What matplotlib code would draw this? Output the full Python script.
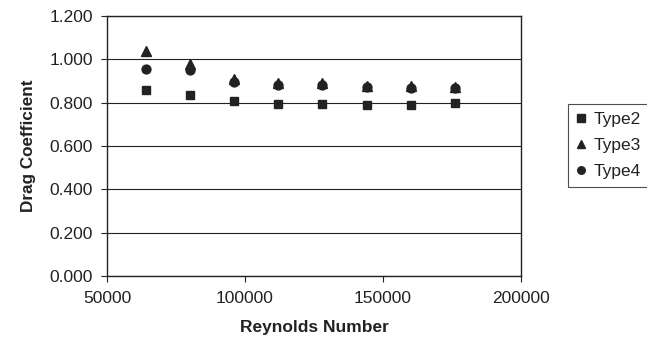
import matplotlib.pyplot as plt

plt.rcParams['font.family'] = ['Liberation Sans', 'DejaVu Sans']

# Drag coefficient vs Reynolds number for three body types
reynolds = [64000, 80000, 96000, 112000, 128000, 144000, 160000, 176000]
type2_cd = [0.859, 0.837, 0.809, 0.795, 0.793, 0.787, 0.790, 0.798]
type3_cd = [1.040, 0.980, 0.907, 0.893, 0.889, 0.879, 0.876, 0.874]
type4_cd = [0.956, 0.952, 0.894, 0.882, 0.880, 0.871, 0.867, 0.866]

ink = '#222222'

fig = plt.figure(figsize=(6.47, 3.45), dpi=100)
ax = fig.add_axes([0.1654, 0.2, 0.640, 0.7536])

ax.plot(reynolds, type2_cd, linestyle='none', marker='s', markersize=6.2,
        color=ink, label='Type2')
ax.plot(reynolds, type3_cd, linestyle='none', marker='^', markersize=6.6,
        color=ink, label='Type3')
ax.plot(reynolds, type4_cd, linestyle='none', marker='o', markersize=6.4,
        color=ink, label='Type4')

ax.set_xlim(50000, 200000)
ax.set_ylim(0, 1.2)
ax.set_xticks([50000, 100000, 150000, 200000])
ax.set_xticklabels(['50000', '100000', '150000', '200000'])
ax.set_yticks([0, 0.2, 0.4, 0.6, 0.8, 1.0, 1.2])
ax.set_yticklabels([f'{v:.3f}' for v in ax.get_yticks()])

ax.yaxis.grid(True, color=ink, linewidth=0.8)
ax.set_axisbelow(True)
for side in ax.spines.values():
    side.set_color(ink)
    side.set_linewidth(1.0)
ax.tick_params(axis='both', direction='out', length=4, width=0.8,
               colors=ink, labelsize=12.5)
ax.tick_params(axis='y', pad=6)
ax.tick_params(axis='x', pad=7)

ax.set_xlabel('Reynolds Number', fontsize=12.5, fontweight='bold',
              color=ink, labelpad=10)
ax.set_ylabel('Drag Coefficient', fontsize=12.3, fontweight='bold',
              color=ink, labelpad=10)

leg = fig.legend(loc='upper left', bbox_to_anchor=(568 / 647, 1 - 104 / 345),
                 frameon=True, fancybox=False, fontsize=12.5, markerscale=0.85,
                 handlelength=0.6, handletextpad=0.4, borderpad=0.45,
                 labelspacing=0.62, borderaxespad=0)
leg.get_frame().set_edgecolor(ink)
leg.get_frame().set_linewidth(0.8)
for text in leg.get_texts():
    text.set_color(ink)

fig.savefig('out.png', dpi=100, facecolor='white')
